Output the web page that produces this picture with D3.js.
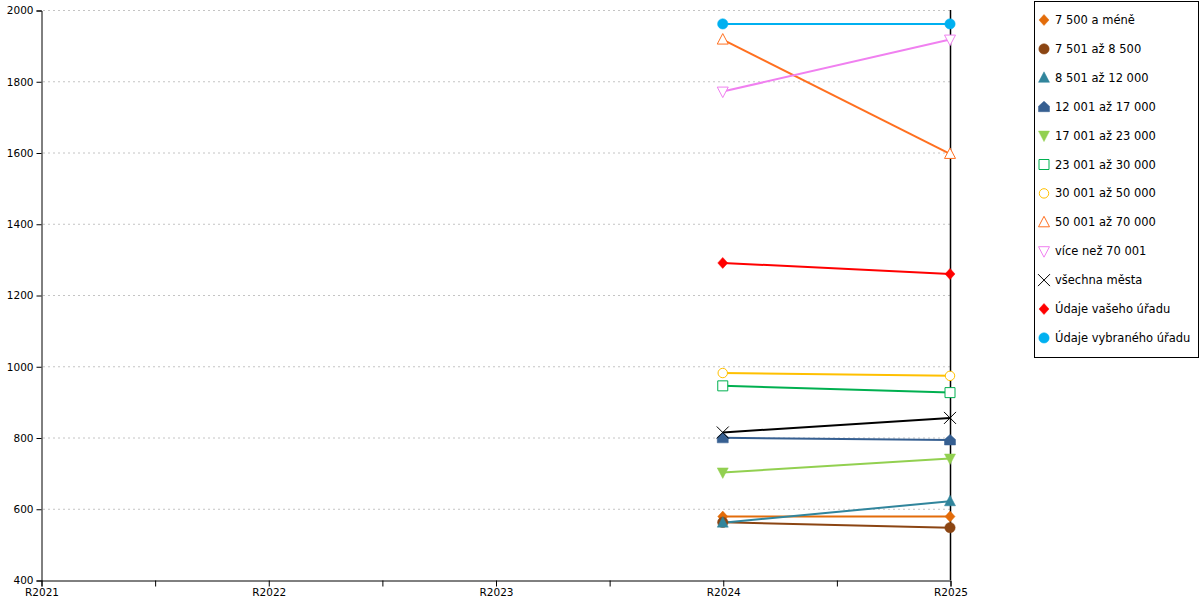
<!DOCTYPE html>
<html>
<head>
<meta charset="utf-8">
<script src="https://cdn.jsdelivr.net/npm/d3@7"></script>
<style>
html,body{margin:0;padding:0;background:#fff;}
svg{display:block;font-family:"DejaVu Sans",Verdana,sans-serif;}
</style>
</head>
<body>
<svg id="chart" width="1200" height="600"></svg>
<script>
const categories = ["R2021","R2022","R2023","R2024","R2025"];
const seriesNames = ["7 500 a méně","7 501 až 8 500","8 501 až 12 000","12 001 až 17 000","17 001 až 23 000","23 001 až 30 000","30 001 až 50 000","50 001 až 70 000","více než 70 001","všechna města","Údaje vašeho úřadu","Údaje vybraného úřadu"];
const s1  = [null,null,null,578,578];
const s2  = [null,null,null,562,547];
const s3  = [null,null,null,561,621];
const s4  = [null,null,null,799,793];
const s5  = [null,null,null,702,741];
const s6  = [null,null,null,945,926];
const s7  = [null,null,null,981,973];
const s8  = [null,null,null,1917,1596];
const s9  = [null,null,null,1771,1917];
const s10 = [null,null,null,814,855];
const s11 = [null,null,null,1290,1259];
const s12 = [null,null,null,1961,1961];
const seriesValues = [s1,s2,s3,s4,s5,s6,s7,s8,s9,s10,s11,s12];
const yTicks = [400,600,800,1000,1200,1400,1600,1800,2000];

const colors = ["#E36C0A","#8B4513","#31859C","#365F91","#92D050","#00B050","#FFC000","#FF7020","#F080F0","#000000","#FF0000","#00B0F0"];
const markers = ["diamond","circle","triangle","house","triDown","squareO","circleO","triangleO","triDownO","times","diamond","circle"];

const svg = d3.select("#chart");
const x0 = 41, x1 = 950, yTop = 10, yBot = 580;
const x = d3.scaleLinear().domain([0, categories.length-1]).range([x0, x1]);
const y = d3.scaleLinear().domain([400, 2000]).range([yBot, yTop]);

// gridlines
svg.append("g").selectAll("line").data(yTicks.filter(d => d > 400)).join("line")
  .attr("x1", x0+2).attr("x2", x1).attr("y1", d => y(d)+0.5).attr("y2", d => y(d)+0.5)
  .attr("stroke", "#c4c4c4").attr("stroke-dasharray", "2,3").attr("stroke-width", 1);

// y axis
const yAxis = d3.axisLeft(y).tickValues(yTicks).tickSize(5).tickPadding(3).tickFormat(d3.format("d"));
const gy = svg.append("g").attr("transform", `translate(${x0+0.5},0.5)`).call(yAxis);
gy.select(".domain").attr("stroke", "#000");
gy.selectAll("text").attr("font-size", "10.5px").attr("fill", "#000").attr("font-family", "DejaVu Sans, Verdana, sans-serif");

// x axis with minor ticks
const xt = d3.range(0, categories.length - 0.5, 0.5);
const xAxis = d3.axisBottom(x).tickValues(xt).tickSize(6).tickPadding(2)
  .tickFormat(d => Number.isInteger(d) ? categories[d] : "");
const gx = svg.append("g").attr("transform", `translate(0.5,${yBot+0.5})`).call(xAxis);
gx.select(".domain").attr("stroke", "#000");
gx.selectAll("text").attr("font-size", "10.5px").attr("fill", "#000").attr("font-family", "DejaVu Sans, Verdana, sans-serif");

// right border line
svg.append("line").attr("x1", x1+0.5).attr("x2", x1+0.5).attr("y1", yTop).attr("y2", yBot)
  .attr("stroke", "#000").attr("stroke-width", 1.5);

function markerPath(type) {
  switch (type) {
    case "diamond": return "M0,-5.5L5,0L0,5.5L-5,0Z";
    case "circle": return d3.symbol(d3.symbolCircle, 85)();
    case "circleO": return d3.symbol(d3.symbolCircle, 70)();
    case "triangle": case "triangleO": return "M0,-6L5.5,4.5L-5.5,4.5Z";
    case "triDown": case "triDownO": return "M0,6L5.5,-4.5L-5.5,-4.5Z";
    case "house": return "M0,-5.5L5.5,-0.5L5.5,5L-5.5,5L-5.5,-0.5Z";
    case "squareO": return "M-5,-5L5,-5L5,5L-5,5Z";
    case "times": return "M-6,-6L6,6M6,-6L-6,6";
  }
}
function drawMarker(g, type, color) {
  const open = /O$/.test(type) || type === "times";
  g.append("path").attr("d", markerPath(type))
    .attr("fill", open ? (type === "times" ? "none" : "#fff") : color)
    .attr("stroke", color).attr("stroke-width", open ? 1 : 0.5);
}

const line = d3.line().defined(d => d.v != null).x(d => x(d.i)).y(d => y(d.v));
const seriesG = svg.append("g");
seriesValues.forEach((vals, k) => {
  const pts = vals.map((v, i) => ({i, v}));
  seriesG.append("path").datum(pts).attr("d", line)
    .attr("fill", "none").attr("stroke", colors[k]).attr("stroke-width", 2);
});
seriesValues.forEach((vals, k) => {
  vals.forEach((v, i) => {
    if (v == null) return;
    const g = seriesG.append("g").attr("transform", `translate(${x(i)},${y(v)})`);
    drawMarker(g, markers[k], colors[k]);
  });
});

// legend
const lg = svg.append("g");
lg.append("rect").attr("x", 1034.5).attr("y", 1.5).attr("width", 164).attr("height", 356)
  .attr("fill", "#fff").attr("stroke", "#000").attr("stroke-width", 1);
seriesNames.forEach((name, k) => {
  const cy = 20 + k * 28.9;
  const g = lg.append("g").attr("transform", `translate(1044,${cy})`);
  drawMarker(g, markers[k], colors[k]);
  lg.append("text").attr("x", 1055).attr("y", cy).attr("dy", "0.35em")
    .attr("font-size", "11.5px").attr("fill", "#000").text(name);
});
</script>
</body>
</html>
